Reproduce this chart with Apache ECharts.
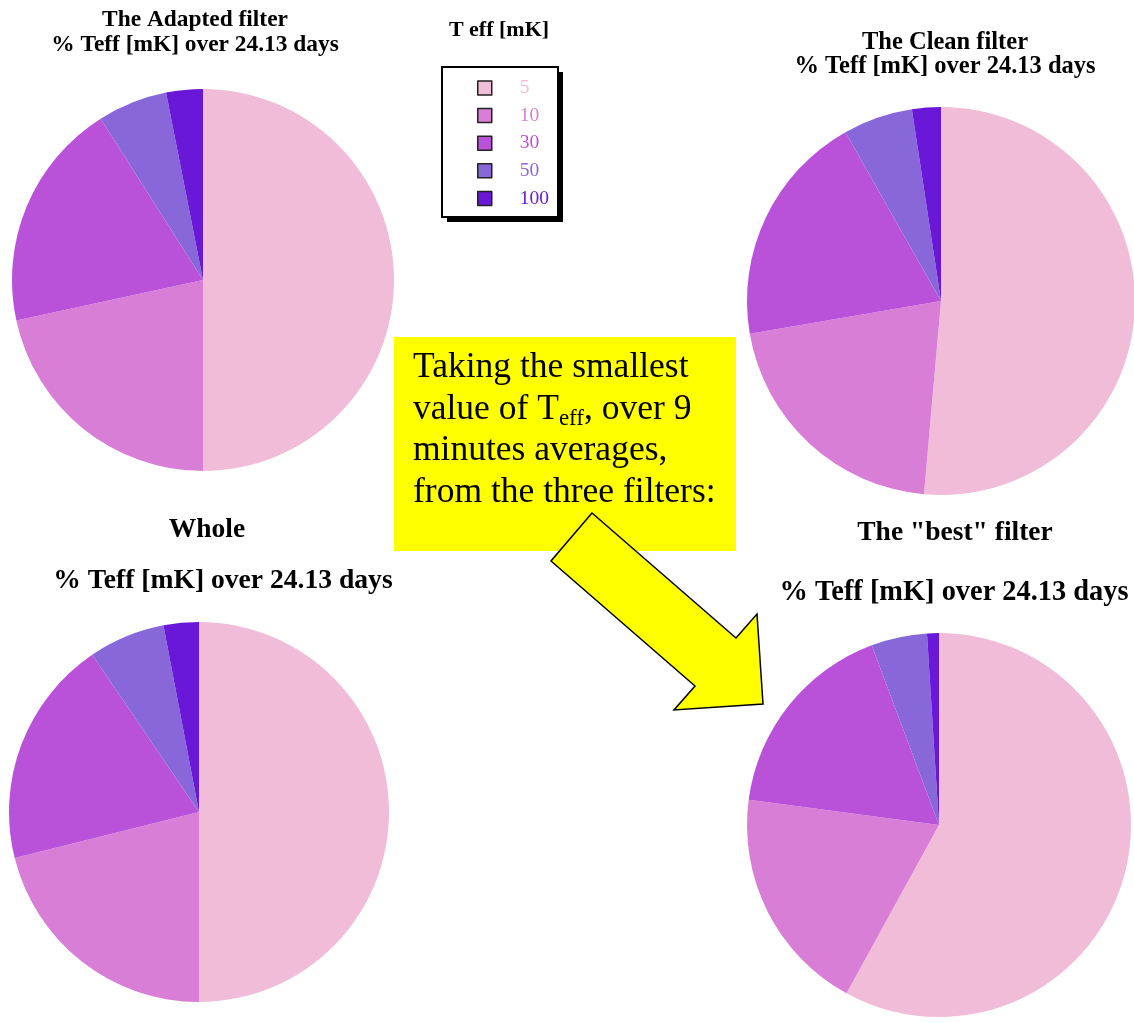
<!DOCTYPE html>
<html><head><meta charset="utf-8">
<script src="https://cdn.jsdelivr.net/npm/echarts@6/dist/echarts.min.js"></script>
<style>html,body{margin:0;padding:0;background:#fff}#c{width:1134px;height:1023px}</style>
</head><body><div id="c"></div>
<script>
// ---- data ----
const categories = ['5', '10', '30', '50', '100'];
const colors = ['#F0BCD8', '#D87ED6', '#BA52D9', '#8868D8', '#6A18D8'];
const adaptedValues = [50.0, 21.6, 19.4, 5.9, 3.1];
const cleanValues = [51.4, 20.9, 19.5, 5.8, 2.4];
const wholeValues = [50.0, 21.1, 19.4, 6.5, 3.0];
const bestValues = [58.0, 19.1, 17.2, 4.7, 1.0];
const legendTitle = 'T eff [mK]';
const subTitle = '% Teff [mK] over 24.13 days';
const calloutText = 'Taking the smallest\nvalue of T{sub|eff}, over 9\nminutes averages,\nfrom the three filters:';

const FONT = 'Liberation Serif';

function pie(name, values, center, r) {
  return {
    type: 'pie', name: name, center: center, radius: r,
    startAngle: 90, clockwise: true, silent: true,
    label: { show: false }, labelLine: { show: false },
    emphasis: { disabled: true },
    itemStyle: { borderWidth: 0 },
    data: categories.map((c, i) => ({ name: c, value: values[i], itemStyle: { color: colors[i] } }))
  };
}
function ttl(text, x, y, size, lh) {
  return {
    text: text, left: x, top: y, textAlign: 'center', padding: 0,
    textStyle: { fontFamily: FONT, fontWeight: 'bold', fontSize: size, lineHeight: lh, color: '#000' }
  };
}

const chart = echarts.init(document.getElementById('c'), null, { renderer: 'canvas' });
chart.setOption({
  animation: false,
  backgroundColor: '#fff',
  color: colors,
  title: [
    ttl('The Adapted filter\n' + subTitle, 195, 7, 23.4, 25),
    ttl('The Clean filter\n' + subTitle, 945, 31, 24.5, 23.5),
    ttl('Whole', 207, 515, 27.5, 30),
    ttl(subTitle, 223, 566, 27.6, 30),
    ttl('The "best" filter', 955, 518, 27.5, 30),
    ttl(subTitle, 954, 578, 28.4, 30)
  ],
  legend: {
    orient: 'vertical', left: 472, top: 73,
    itemWidth: 14, itemHeight: 14, itemGap: 7.6,
    icon: 'rect', selectedMode: false,
    itemStyle: { borderColor: '#222', borderWidth: 1.5 },
    textStyle: { fontFamily: FONT, fontSize: 19.5, lineHeight: 19, padding: [0, 0, 0, 23] },
    data: categories.map((c, i) => ({ name: c, textStyle: { color: colors[i] } }))
  },
  graphic: [
    { type: 'rect', shape: { x: 447, y: 72, width: 116, height: 150 }, style: { fill: '#000' } },
    { type: 'rect', shape: { x: 442, y: 67, width: 116, height: 150 }, style: { fill: '#fff', stroke: '#000', lineWidth: 2 } },
    { type: 'text', x: 499, y: 19, style: { text: legendTitle, fontFamily: FONT, fontWeight: 'bold', fontSize: 22, fill: '#000', align: 'center', verticalAlign: 'top' } },
    { type: 'rect', shape: { x: 394, y: 337, width: 342, height: 214 }, style: { fill: '#FFFF00' } },
    { type: 'text', x: 413, y: 347, style: {
        text: calloutText, fontFamily: FONT, fontSize: 35.5, lineHeight: 41.5, fill: '#000',
        rich: { sub: { fontFamily: FONT, fontSize: 23, lineHeight: 23, verticalAlign: 'bottom', fill: '#000' } }
      } },
    { type: 'polygon', shape: { points: [[592, 513], [551, 561], [695, 686], [674, 710], [763, 704], [757, 614], [736, 638]] },
      style: { fill: '#FFFF00', stroke: '#000', lineWidth: 1.5 } }
  ],
  series: [
    pie('The Adapted filter', adaptedValues, [203, 280], 191),
    pie('The Clean filter', cleanValues, [941, 301], 194),
    pie('Whole', wholeValues, [199, 812], 190),
    pie('The "best" filter', bestValues, [939, 825], 192)
  ]
});
</script>
</body></html>
